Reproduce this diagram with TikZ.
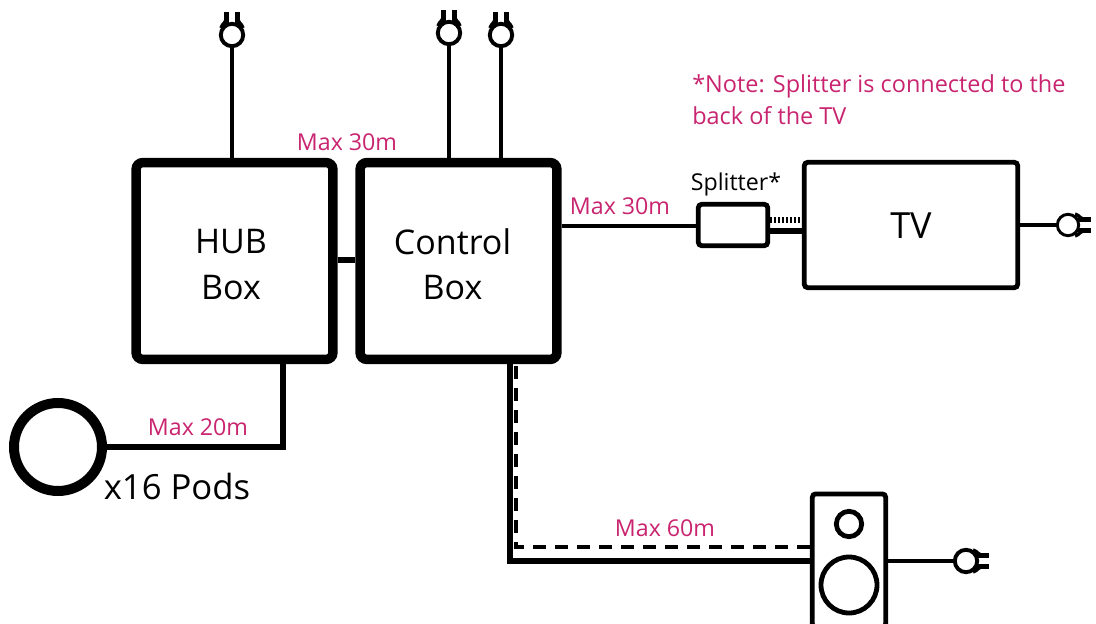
\documentclass[tikz,border=0pt]{standalone}
\usepackage{fontspec}
\setmainfont{Open Sans}
\definecolor{mag}{HTML}{C9246F}
\tikzset{
  x=0.75pt,y=-0.75pt,
  bigbox/.style={draw=black,line width=7.1pt,rounded corners=5pt,minimum width=147.6pt,minimum height=147.6pt,inner sep=0pt},
  thinbox/.style={draw=black,line width=3.6pt,rounded corners=2.5pt,inner sep=0pt},
  wire/.style={draw=black,line width=3.6pt},
  lbl/.style={text=mag,font=\fontsize{17.4}{20}\selectfont,inner sep=0pt},
  boxtext/.style={inner sep=0pt,font=\fontsize{25.5}{30}\selectfont},
  plughead/.style={circle,draw=black,fill=white,line width=2.9pt,minimum size=16.8pt,inner sep=0pt},
  smallhead/.style={line width=2.2pt,minimum size=16pt},
  prong/.style={draw=black,line width=3.2pt},
  flare/.style={draw=black,line width=2.6pt},
}
% #1 = head options, #2 = node name, #3 = position, #4 = rotation (0: prongs point up)
\newcommand{\plugat}[4]{%
  \begin{scope}[shift={#3},rotate=#4]
    \draw[prong] (-5.5,-22.5) -- (-5.5,-10);
    \draw[prong] (5.5,-22.5) -- (5.5,-10);
    \draw[flare] (-5.5,-15.5) .. controls (-6,-12) and (-9.5,-12) .. (-11,-7);
    \draw[flare] (5.5,-15.5) .. controls (6,-12) and (9.5,-12) .. (11,-7);
  \end{scope}
  \node[plughead,#1] (#2) at #3 {};
}
\begin{document}
\begin{tikzpicture}
\useasboundingbox (0,0) rectangle (1096,624);
% boxes
\node[bigbox] (hub) at (234.5,261) {};
\node[bigbox] (ctrl) at (458.5,261) {};
\node[thinbox,minimum width=160pt,minimum height=94pt] (tv) at (911,225) {};
\node[thinbox,minimum width=52pt,minimum height=31pt] (split) at (733,225) {};
\node[thinbox,minimum width=55pt,minimum height=100pt,anchor=north] (spk) at (849,491.5) {};
\node[circle,draw=black,line width=3.6pt,minimum size=19pt,inner sep=0pt] (tweeter) at (849,524) {};
\node[circle,draw=black,line width=3.6pt,minimum size=42pt,inner sep=0pt] (woofer) at (849,585) {};
\node[circle,draw=black,line width=7.5pt,minimum size=66pt,inner sep=0pt] (pod) at (58,447) {};
% box texts
\node[boxtext] (t1) at (231,242) {HUB};
\node[boxtext] (t2) at (231,288) {Box};
\node[boxtext] (t3) at (452.5,242) {Control};
\node[boxtext] (t4) at (452.5,288) {Box};
\node[boxtext,font=\fontsize{27}{30}\selectfont] (t5) at (911,226) {TV};
% plugs
\plugat{}{p1}{(232,35)}{0}
\plugat{}{p2}{(449,33)}{0}
\plugat{}{p3}{(501,35)}{0}
\plugat{smallhead}{p4}{(1068,225)}{-90}
\plugat{}{p5}{(966,561)}{-90}
% anchors for free junctions
\coordinate (hubT) at (p1.south |- hub.north);
\coordinate (c2T) at (p2.south |- ctrl.north);
\coordinate (c3T) at (p3.south |- ctrl.north);
% wires
\draw[wire] (p1.south) -- (hubT);
\draw[wire] (p2.south) -- (c2T);
\draw[wire] (p3.south) -- (c3T);
\draw[wire,line width=4.5pt] (hub.east |- 0,260) -- (ctrl.west |- 0,260);
\draw[wire] (ctrl.east |- 0,226) -- (split.west |- 0,226);
\draw[wire,line width=3.8pt] (split.east |- 0,231) -- (tv.west |- 0,231);
\draw[draw=black,line width=4.5pt,dash pattern=on 1.5pt off 1.5pt] (split.east |- 0,220.5) -- (tv.west |- 0,220.5);
\draw[wire,line width=3pt] (tv.east |- p4) -- (p4.west);
\draw[wire,line width=3pt] (spk.east |- p5) -- (p5.west);
\draw[wire,line width=3.8pt] (pod.east) -- (283,447) -- (283,359);
\draw[wire,line width=3.8pt,line cap=butt] (510,364) -- (510,561) -- (spk.west |- 0,561);
\draw[wire,line width=3pt,dash pattern=on 10pt off 6.5pt] (516,366) -- (516,547) -- (spk.west |- 0,547);
% labels
\node[lbl] (l1) at (347,142) {Max 30m};
\node[lbl] (l2) at (620,206) {Max 30m};
\node[lbl] (l3) at (198,427) {Max 20m};
\node[lbl] (l4) at (665,528) {Max 60m};
\node[lbl,anchor=north west,align=left,font=\fontsize{17.6}{24}\selectfont] (note) at (692,74) {*Note: Splitter is connected to the\\back of the TV};
\node[inner sep=0pt,font=\fontsize{17.4}{20}\selectfont] (st) at (736,184) {Splitter*};
\node[inner sep=0pt,font=\fontsize{26}{30}\selectfont] (pods) at (177,486) {x16 Pods};
\end{tikzpicture}
\end{document}
